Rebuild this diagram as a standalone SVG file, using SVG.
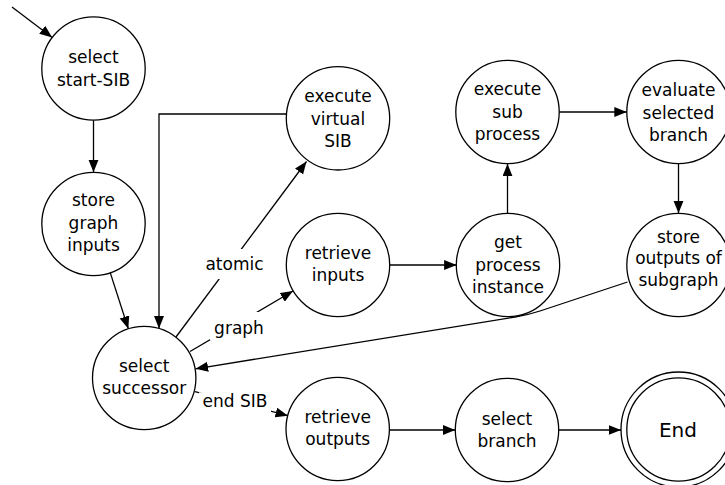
<svg xmlns="http://www.w3.org/2000/svg" width="725" height="485" viewBox="0 0 725 485">
<style>
  .n { fill: #ffffff; stroke: #000000; stroke-width: 1.3; }
  .e { fill: none; stroke: #000000; stroke-width: 1.3; marker-end: url(#arr); }
  .t { font-family: "DejaVu Sans", "Liberation Sans", sans-serif; font-size: 17px; fill: #000000; text-anchor: middle; }
  .lb { fill: #ffffff; stroke: none; }
</style>
<defs>
  <marker id="arr" markerUnits="userSpaceOnUse" markerWidth="13" markerHeight="11" refX="12.5" refY="5" orient="auto">
    <path d="M0,0 L12.5,5 L0,10 z" fill="#000000"/>
  </marker>
</defs>
<rect x="0" y="0" width="725" height="485" fill="#ffffff"/>

<g id="connectors">
  <line class="e" x1="12" y1="7" x2="52.2" y2="37.4"/>
  <line class="e" x1="93.5" y1="120.2" x2="93.5" y2="172.3"/>
  <line class="e" x1="110.3" y1="272.9" x2="128.3" y2="328.8"/>
  <polyline class="e" points="286.3,114 159,114 159,328.5"/>
  <line class="e" x1="176" y1="337" x2="306.5" y2="161.5"/>
  <line class="e" x1="190" y1="351.5" x2="293" y2="291"/>
  <line class="e" x1="389.7" y1="265" x2="456.6" y2="265"/>
  <line class="e" x1="507.5" y1="213.3" x2="507.5" y2="163.7"/>
  <line class="e" x1="558.7" y1="112" x2="626.8" y2="112"/>
  <line class="e" x1="678.5" y1="163.7" x2="678.5" y2="213.3"/>
  <path class="e" d="M627.5,282 L540,311 Q528,315 515,317 L195.6,368.8"/>
  <line class="e" x1="195" y1="391.7" x2="288" y2="415.7"/>
  <line class="e" x1="389.4" y1="430" x2="455.2" y2="430"/>
  <line class="e" x1="558.5" y1="430" x2="621" y2="430"/>
  <rect class="lb" x="204" y="249" width="61" height="30"/>
  <text class="t" x="234.5" y="270">atomic</text>
  <rect class="lb" x="210" y="312" width="56" height="28"/>
  <text class="t" x="239" y="334">graph</text>
  <rect class="lb" x="199" y="392.3" width="72" height="20"/>
  <text class="t" x="235" y="406.5">end SIB</text>
</g>

<g id="select-start-sib">
  <circle class="n" cx="93.5" cy="68.5" r="51.7"/>
  <text class="t" x="93.5" y="63">select</text>
  <text class="t" x="93.5" y="85.5">start-SIB</text>
</g>
<g id="store-graph-inputs">
  <circle class="n" cx="93.5" cy="224" r="51.7"/>
  <text class="t" x="93.5" y="206">store</text>
  <text class="t" x="93.5" y="228.5">graph</text>
  <text class="t" x="93.5" y="251">inputs</text>
</g>
<g id="select-successor">
  <circle class="n" cx="144.2" cy="378" r="51.7"/>
  <text class="t" x="144.2" y="372">select</text>
  <text class="t" x="144.2" y="394">successor</text>
</g>
<g id="execute-virtual-sib">
  <circle class="n" cx="338" cy="118.3" r="51.7"/>
  <text class="t" x="338" y="102">execute</text>
  <text class="t" x="338" y="124.5">virtual</text>
  <text class="t" x="338" y="147">SIB</text>
</g>
<g id="retrieve-inputs">
  <circle class="n" cx="338" cy="265" r="51.7"/>
  <text class="t" x="338" y="259">retrieve</text>
  <text class="t" x="338" y="281">inputs</text>
</g>
<g id="get-process-instance">
  <circle class="n" cx="508" cy="265" r="51.7"/>
  <text class="t" x="508" y="248">get</text>
  <text class="t" x="508" y="270.5">process</text>
  <text class="t" x="508" y="293">instance</text>
</g>
<g id="execute-sub-process">
  <circle class="n" cx="507.5" cy="112" r="51.7"/>
  <text class="t" x="507.5" y="95">execute</text>
  <text class="t" x="507.5" y="117.5">sub</text>
  <text class="t" x="507.5" y="140">process</text>
</g>
<g id="evaluate-selected-branch">
  <circle class="n" cx="678.5" cy="112" r="51.7"/>
  <text class="t" x="678.5" y="96">evaluate</text>
  <text class="t" x="678.5" y="118.5">selected</text>
  <text class="t" x="678.5" y="141">branch</text>
</g>
<g id="store-outputs-of-subgraph">
  <circle class="n" cx="678.5" cy="265" r="51.7"/>
  <text class="t" x="678.5" y="242.5">store</text>
  <text class="t" x="678.5" y="264">outputs of</text>
  <text class="t" x="678.5" y="285.5">subgraph</text>
</g>
<g id="retrieve-outputs">
  <circle class="n" cx="337.7" cy="429" r="51.7"/>
  <text class="t" x="337.7" y="423">retrieve</text>
  <text class="t" x="337.7" y="445">outputs</text>
</g>
<g id="select-branch">
  <circle class="n" cx="507" cy="430" r="51.7"/>
  <text class="t" x="507" y="425">select</text>
  <text class="t" x="507" y="446.5">branch</text>
</g>
<g id="end">
  <circle class="n" cx="678.5" cy="429.5" r="57.5"/>
  <circle class="n" cx="678.5" cy="429.5" r="51.7"/>
  <text class="t" x="678" y="437" style="font-size:20px">End</text>
</g>
</svg>
